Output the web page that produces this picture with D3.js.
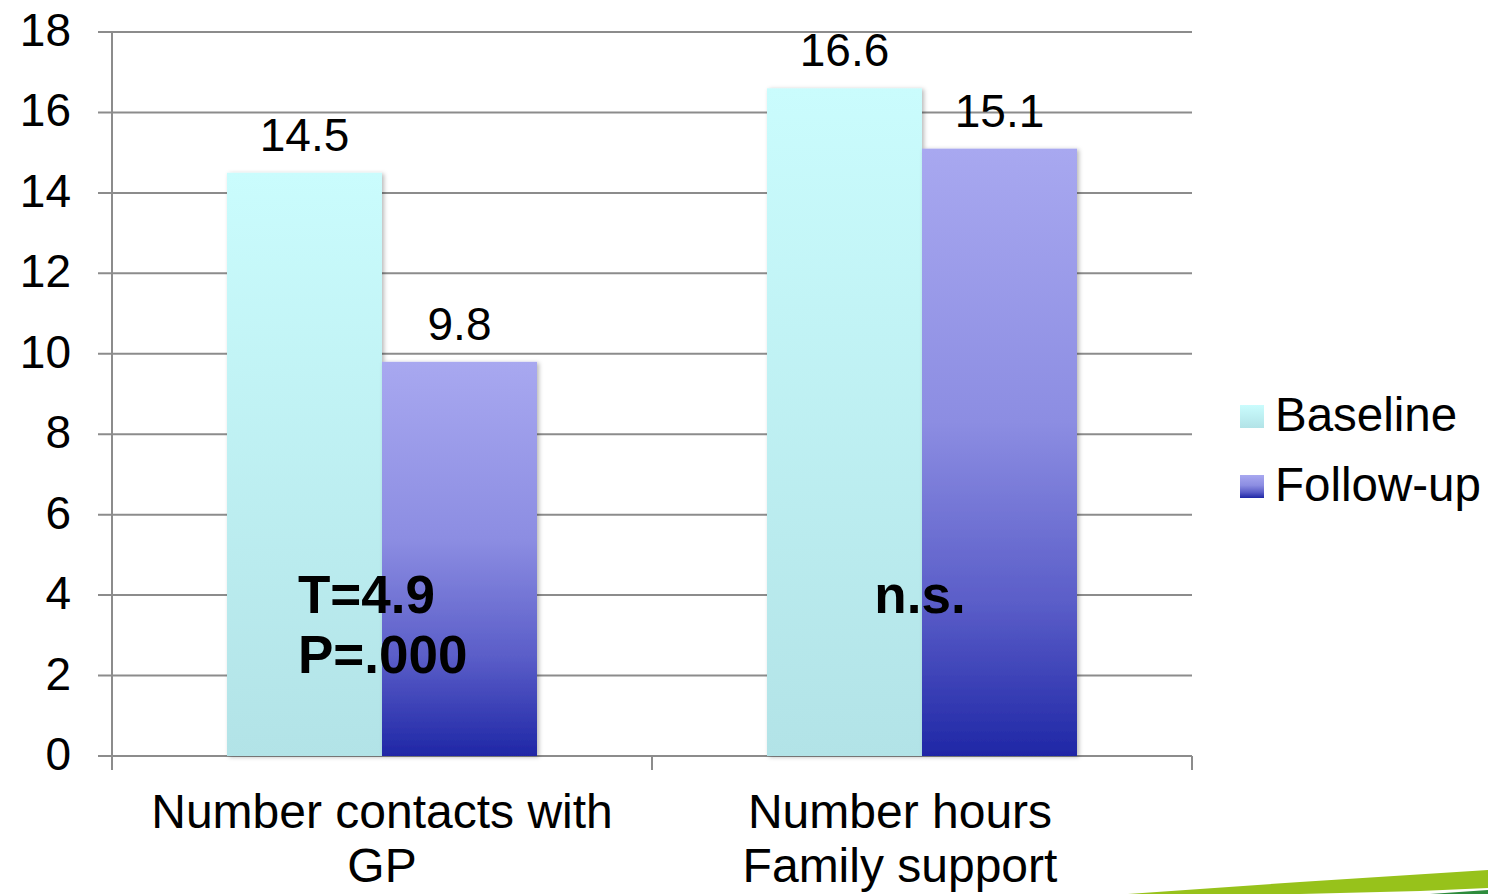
<!DOCTYPE html>
<html>
<head>
<meta charset="utf-8">
<script src="https://cdn.jsdelivr.net/npm/d3@7/dist/d3.min.js"></script>
<style>
  html, body { margin: 0; padding: 0; background: #fff; }
  svg { display: block; font-family: "Liberation Sans", Arial, Helvetica, sans-serif; }
</style>
</head>
<body>
<svg id="chart" width="1488" height="894"></svg>
<script>
// Categories (multi-line labels) and series
const categories = ["Number contacts with GP", "Number hours Family support"];
const categoryLines = [["Number contacts with", "GP"], ["Number hours", "Family support"]];
const seriesNames = ["Baseline", "Follow-up"];
const baselineValues = [14.5, 16.6];
const followUpValues = [9.8, 15.1];
const yTicks = [0, 2, 4, 6, 8, 10, 12, 14, 16, 18];
const statLabels = [["T=4.9", "P=.000"], ["n.s."]];

const svg = d3.select("#chart");
const defs = svg.append("defs");

// Vertical gradients for each series
const gradStops = {
  "Baseline": [[0, "#CAFCFD"], [1, "#B2E3E7"]],
  "Follow-up": [[0, "#A8A8F0"], [0.45, "#8C8DE2"], [0.75, "#5A5DC8"], [1, "#1F27A6"]]
};
seriesNames.forEach((s, i) => {
  const g = defs.append("linearGradient")
    .attr("id", "grad" + i)
    .attr("x1", 0).attr("y1", 0).attr("x2", 0).attr("y2", 1);
  gradStops[s].forEach(([o, c]) => g.append("stop").attr("offset", o).attr("stop-color", c));
});

const shadow = defs.append("filter").attr("id", "barShadow")
  .attr("x", "-10%").attr("y", "-10%").attr("width", "130%").attr("height", "130%");
shadow.append("feDropShadow")
  .attr("dx", 2).attr("dy", 1).attr("stdDeviation", 2)
  .attr("flood-color", "#000").attr("flood-opacity", 0.28);

// Scales
const x0 = d3.scaleBand().domain(categories).range([112, 1192]).paddingInner(0).paddingOuter(0);
const x1 = d3.scaleBand().domain(seriesNames).range([0, x0.bandwidth()]).paddingInner(0).paddingOuter(0.742);
const y = d3.scaleLinear().domain([0, 18]).range([756, 32]);

const gridColor = "#8c8c8c";

// Horizontal gridlines + left tick marks
svg.append("g")
  .selectAll("line")
  .data(yTicks)
  .join("line")
  .attr("x1", 98).attr("x2", 1192)
  .attr("y1", d => y(d)).attr("y2", d => y(d))
  .attr("stroke", gridColor).attr("stroke-width", 2);

// Y axis line
svg.append("line")
  .attr("x1", 112).attr("x2", 112)
  .attr("y1", y(18)).attr("y2", 770)
  .attr("stroke", gridColor).attr("stroke-width", 2);

// Category separator ticks on x axis
const xTickPos = [x0.range()[0], ...categories.map(c => x0(c) + x0.bandwidth())];
svg.append("g")
  .selectAll("line")
  .data(xTickPos)
  .join("line")
  .attr("x1", d => d).attr("x2", d => d)
  .attr("y1", y(0)).attr("y2", 770)
  .attr("stroke", gridColor).attr("stroke-width", 2);

// Y tick labels
svg.append("g")
  .selectAll("text")
  .data(yTicks)
  .join("text")
  .attr("x", 71)
  .attr("y", d => y(d) + 14)
  .attr("text-anchor", "end")
  .attr("font-size", 46)
  .attr("fill", "#000")
  .text(d => d);

// Bars
const rows = categories.map((c, i) => ({
  category: c,
  values: [
    { series: seriesNames[0], idx: 0, value: baselineValues[i] },
    { series: seriesNames[1], idx: 1, value: followUpValues[i] }
  ]
}));

const groups = svg.append("g")
  .selectAll("g")
  .data(rows)
  .join("g")
  .attr("transform", d => `translate(${x0(d.category)},0)`);

groups.selectAll("rect")
  .data(d => d.values)
  .join("rect")
  .attr("x", d => x1(d.series))
  .attr("y", d => y(d.value))
  .attr("width", x1.bandwidth())
  .attr("height", d => y(0) - y(d.value))
  .attr("fill", d => `url(#grad${d.idx})`)
  .attr("filter", "url(#barShadow)");

// Value labels
groups.selectAll("text.val")
  .data(d => d.values)
  .join("text")
  .attr("class", "val")
  .attr("x", d => x1(d.series) + x1.bandwidth() / 2)
  .attr("y", d => y(d.value) - 22)
  .attr("text-anchor", "middle")
  .attr("font-size", 46)
  .attr("fill", "#000")
  .text(d => d.value.toFixed(1));

// Statistical annotations
svg.append("g")
  .selectAll("text")
  .data(statLabels[0])
  .join("text")
  .attr("x", 298)
  .attr("y", (d, i) => 613 + i * 60)
  .attr("font-size", 53)
  .attr("font-weight", "bold")
  .attr("fill", "#000")
  .text(d => d);

svg.append("text")
  .attr("x", x0(categories[1]) + x1(seriesNames[1]) - 2)
  .attr("y", 613)
  .attr("text-anchor", "middle")
  .attr("font-size", 53)
  .attr("font-weight", "bold")
  .attr("fill", "#000")
  .text(statLabels[1][0]);

// Category labels (the second one sits slightly left of its band centre)
const labelShift = [0, -22];
const catLabels = svg.append("g")
  .selectAll("text")
  .data(categories)
  .join("text")
  .attr("x", (d, i) => x0(d) + x0.bandwidth() / 2 + labelShift[i])
  .attr("y", 828)
  .attr("text-anchor", "middle")
  .attr("font-size", 48)
  .attr("fill", "#000");
catLabels.selectAll("tspan")
  .data((d, i) => categoryLines[i])
  .join("tspan")
  .attr("x", function () { return d3.select(this.parentNode).attr("x"); })
  .attr("dy", (d, i) => i === 0 ? 0 : 54)
  .text(d => d);

// Legend
const legend = svg.append("g")
  .selectAll("g")
  .data(seriesNames)
  .join("g")
  .attr("transform", (d, i) => `translate(1240,${405 + i * 70})`);
legend.append("rect")
  .attr("width", 24).attr("height", 23)
  .attr("fill", (d, i) => `url(#grad${i})`);
legend.append("text")
  .attr("x", 35).attr("y", 26)
  .attr("font-size", 47.5)
  .attr("fill", "#000")
  .text(d => d);

// Decorative swoosh in the lower-right corner
svg.append("path")
  .attr("d", "M1128,894 L1300,882 L1488,870 L1488,888 L1420,891 L1300,894 Z")
  .attr("fill", "#97C21B");
svg.append("path")
  .attr("d", "M1430,894 L1488,890 L1488,894 Z")
  .attr("fill", "#2E8C3C");
</script>
</body>
</html>
